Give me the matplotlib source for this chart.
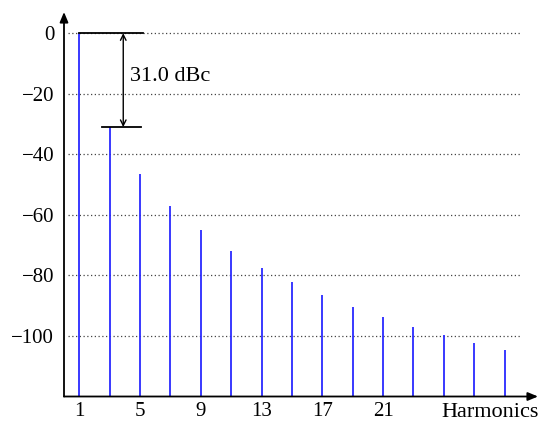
import matplotlib
matplotlib.use("Agg")
import matplotlib.pyplot as plt

harmonics = [1, 3, 5, 7, 9, 11, 13, 15, 17, 19, 21, 23, 25, 27, 29]
levels_dbc = [0, -31.0, -46.5, -57.0, -65.0, -71.8, -77.5, -82.3, -86.6,
              -90.5, -93.8, -96.9, -99.7, -102.4, -104.7]
xtick_vals = [1, 5, 9, 13, 17, 21]
ytick_vals = [0, -20, -40, -60, -80, -100]
delta_label = "31.0 dBc"

plt.rcParams['font.family'] = ['Liberation Serif', 'DejaVu Serif']
plt.rcParams['axes.unicode_minus'] = True

fig = plt.figure(figsize=(5.41, 4.25), dpi=100)
W, H = 541, 425
x0, x1 = 64, 538
y_top, y_bot = 12, 396.5
ax = fig.add_axes([x0 / W, 1 - y_bot / H, (x1 - x0) / W, (y_bot - y_top) / H])
xmin, xmax = 0, 31.2
ymin, ymax = -120, 7
ax.set_xlim(xmin, xmax)
ax.set_ylim(ymin, ymax)
for s in ax.spines.values():
    s.set_visible(False)

# grid lines
for yv in ytick_vals:
    ax.plot([0.25, 30], [yv, yv], color='#444444', lw=0.9, ls=(0, (1, 2)), zorder=1)

# bars
ax.vlines(harmonics, ymin, levels_dbc, color='#2a2aff', lw=1.3, zorder=2)

# axes arrows
arrow_kw = dict(arrowstyle='-|>,head_length=0.6,head_width=0.25', color='black', lw=1.3,
                shrinkA=0, shrinkB=0)
ax.annotate('', xy=(xmin, ymax), xytext=(xmin, ymin), arrowprops=arrow_kw,
            annotation_clip=False, zorder=3)
ax.annotate('', xy=(xmax, ymin), xytext=(xmin, ymin), arrowprops=arrow_kw,
            annotation_clip=False, zorder=3)

# ticks
ax.set_xticks(xtick_vals)
ax.set_xticklabels([str(v) for v in xtick_vals], fontsize=15)
ax.set_yticks(ytick_vals)
ax.set_yticklabels([str(v).replace('-', '\u2212') for v in ytick_vals], fontsize=15)
ax.tick_params(axis='both', length=0)
ax.tick_params(axis='y', pad=7)
ax.tick_params(axis='x', pad=4)

fig.text(539 / W, 1 - 403 / H, 'Harmonics', fontsize=16, ha='right', va='top')

# annotation of the delta
ax.plot([1, 5.2], [levels_dbc[0], levels_dbc[0]], color='black', lw=1.3, zorder=3)
ax.plot([2.5, 5.1], [levels_dbc[1], levels_dbc[1]], color='black', lw=1.3, zorder=3)
ax.annotate('', xy=(3.9, levels_dbc[1]), xytext=(3.9, levels_dbc[0]),
            arrowprops=dict(arrowstyle='<->,head_length=0.4,head_width=0.2',
                            color='black', lw=1.0, shrinkA=0, shrinkB=0), zorder=3)
ax.text(4.35, -14.2, delta_label, fontsize=16, ha='left', va='center')

fig.savefig('out.png', dpi=100)
